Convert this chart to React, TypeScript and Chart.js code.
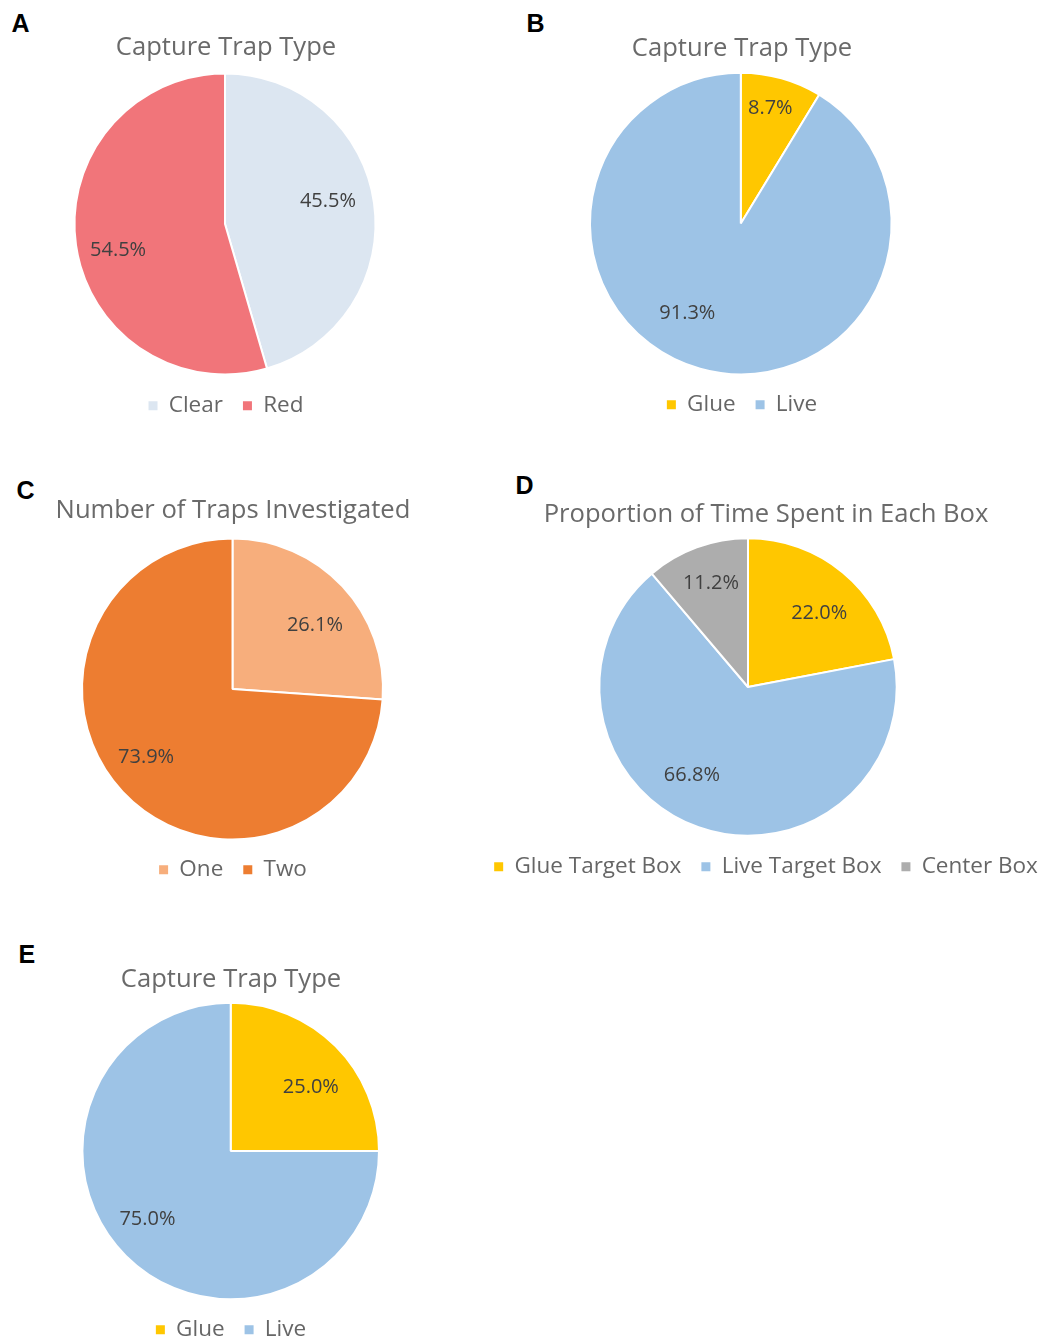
import React, { useEffect, useRef } from "react";
import { Chart, registerables } from "chart.js";

Chart.register(...registerables);

const FONT = '"Open Sans", "Noto Sans", sans-serif';

// A: capture trap type (trap colour)
const colourTrapLabels = ["Clear", "Red"];
const colourTrapShares = [45.5, 54.5];

// B: capture trap type (glue vs live), first set
const kindTrapLabelsB = ["Glue", "Live"];
const kindTrapSharesB = [8.7, 91.3];

// C: number of traps investigated
const investigatedLabels = ["One", "Two"];
const investigatedShares = [26.1, 73.9];

// D: proportion of time spent in each box
const boxLabels = ["Glue Target Box", "Live Target Box", "Center Box"];
const boxTimeShares = [22.0, 66.8, 11.2];

// E: capture trap type (glue vs live), second set
const kindTrapLabelsE = ["Glue", "Live"];
const kindTrapSharesE = [25.0, 75.0];

const captureTitle = "Capture Trap Type";
const investigatedTitle = "Number of Traps Investigated";
const boxTitle = "Proportion of Time Spent in Each Box";

const clearRedColours = ["#DCE6F1", "#F1757A"];
const glueLiveColours = ["#FFC700", "#9DC3E6"];
const oneTwoColours = ["#F7AE7C", "#ED7D31"];
const boxColours = ["#FFC700", "#9DC3E6", "#ADADAD"];

// Label placement per slice: angular nudge from the slice's mid-angle (degrees)
// and distance from the centre as a fraction of the radius ("best fit" style).
const labelNudgeA = [-4.2, -5.6];
const labelDistA = [0.705, 0.736];
const labelNudgeB = [-1.3, 15.1];
const labelDistB = [0.794, 0.698];
const labelNudgeC = [5.3, 4.8];
const labelDistC = [0.697, 0.736];
const labelNudgeD = [4.4, 13.1, 0.5];
const labelDistD = [0.694, 0.706, 0.746];
const labelNudgeE = [6.4, 5.8];
const labelDistE = [0.696, 0.729];

const TITLE_COLOUR = "#6a6a6a";
const LEGEND_COLOUR = "#666666";
const VALUE_COLOUR = "#404040";

// Places the pie at a fixed centre and radius inside the canvas.
const pieFrame = {
  id: "pieFrame",
  afterLayout(chart: any, _args: any, opts: any) {
    const { cx, cy, r } = opts;
    if (cx == null) return;
    chart.chartArea = {
      left: cx - r,
      top: cy - r,
      right: cx + r,
      bottom: cy + r,
      width: 2 * r,
      height: 2 * r,
    };
  },
};

// Percentage labels written inside each slice.
const sliceLabels = {
  id: "sliceLabels",
  afterDatasetsDraw(chart: any, _args: any, opts: any) {
    const ctx = chart.ctx as CanvasRenderingContext2D;
    const meta = chart.getDatasetMeta(0);
    const data = chart.data.datasets[0].data as number[];
    ctx.save();
    ctx.font = `${opts.size}px ${FONT}`;
    ctx.fillStyle = opts.color;
    ctx.textAlign = "center";
    ctx.textBaseline = "middle";
    meta.data.forEach((arc: any, i: number) => {
      const p = arc.getProps(["x", "y", "startAngle", "endAngle", "outerRadius"], true);
      const nudge = ((opts.nudge?.[i] ?? 0) * Math.PI) / 180;
      const mid = (p.startAngle + p.endAngle) / 2 + nudge;
      const rr = (p.outerRadius - 1) * (opts.dist?.[i] ?? 0.7);
      ctx.fillText(`${data[i].toFixed(1)}%`, p.x + Math.cos(mid) * rr, p.y + Math.sin(mid) * rr);
    });
    ctx.restore();
  },
};

type PanelProps = {
  letter: string;
  letterX: number;
  letterY: number;
  title: string;
  labels: string[];
  values: number[];
  colours: string[];
  nudge: number[];
  dist: number[];
  left: number;
  top: number;
  width: number;
  height: number;
  cx: number;
  cy: number;
  r: number;
  titlePad: number;
};

function PiePanel(props: PanelProps) {
  const ref = useRef<HTMLCanvasElement | null>(null);
  useEffect(() => {
    if (!ref.current) return;
    const base = (Chart as any).overrides.doughnut.plugins.legend.labels.generateLabels;
    const chart = new Chart(ref.current, {
      type: "pie",
      data: {
        labels: props.labels,
        datasets: [
          {
            data: props.values,
            backgroundColor: props.colours,
            borderColor: "#ffffff",
            borderWidth: 2,
          },
        ],
      },
      options: {
        responsive: false,
        animation: false,
        devicePixelRatio: 1,
        events: [],
        plugins: {
          tooltip: { enabled: false },
          title: {
            display: true,
            text: props.title,
            color: TITLE_COLOUR,
            font: { family: FONT, size: 25.6, weight: "normal", lineHeight: 1.2 },
            padding: { top: props.titlePad, bottom: 0 },
          },
          legend: {
            display: true,
            position: "bottom",
            labels: {
              font: { family: FONT, size: 22.5 },
              color: LEGEND_COLOUR,
              boxWidth: 9,
              boxHeight: 9,
              padding: 20,
              generateLabels: (c: any) =>
                base(c).map((item: any) => ({ ...item, lineWidth: 0, fontColor: LEGEND_COLOUR })),
            },
          },
          pieFrame: { cx: props.cx, cy: props.cy, r: props.r },
          sliceLabels: { size: 20, color: VALUE_COLOUR, nudge: props.nudge, dist: props.dist },
        } as any,
      },
      plugins: [pieFrame, sliceLabels],
    });
    if ((document as any).fonts && (document as any).fonts.ready) {
      (document as any).fonts.ready.then(() => chart.update());
    }
    return () => chart.destroy();
  }, []);

  return (
    <>
      <div
        style={{
          position: "absolute",
          left: props.letterX,
          top: props.letterY,
          font: 'bold 25px "Liberation Sans", Arial, sans-serif',
          lineHeight: "25px",
          color: "#000",
        }}
      >
        {props.letter}
      </div>
      <canvas
        ref={ref}
        width={props.width}
        height={props.height}
        style={{
          position: "absolute",
          left: props.left,
          top: props.top,
          width: props.width,
          height: props.height,
        }}
      />
    </>
  );
}

export default function App() {
  return (
    <div
      style={{
        position: "absolute",
        left: 0,
        top: 0,
        width: 1038,
        height: 1339,
        overflow: "hidden",
        background: "#ffffff",
      }}
    >
      <PiePanel
        letter="A" letterX={11.5} letterY={10.5}
        title={captureTitle} labels={colourTrapLabels} values={colourTrapShares} colours={clearRedColours}
        nudge={labelNudgeA} dist={labelDistA}
        left={0} top={0} width={452} height={427}
        cx={225} cy={224} r={151.5} titlePad={32.5}
      />
      <PiePanel
        letter="B" letterX={526.5} letterY={10.5}
        title={captureTitle} labels={kindTrapLabelsB} values={kindTrapSharesB} colours={glueLiveColours}
        nudge={labelNudgeB} dist={labelDistB}
        left={519} top={0} width={446} height={426}
        cx={221.8} cy={223.5} r={151.8} titlePad={33}
      />
      <PiePanel
        letter="C" letterX={16.5} letterY={477.5}
        title={investigatedTitle} labels={investigatedLabels} values={investigatedShares} colours={oneTwoColours}
        nudge={labelNudgeC} dist={labelDistC}
        left={0} top={464} width={466} height={427}
        cx={232.5} cy={225} r={151.5} titlePad={31.5}
      />
      <PiePanel
        letter="D" letterX={515.5} letterY={472.5}
        title={boxTitle} labels={boxLabels} values={boxTimeShares} colours={boxColours}
        nudge={labelNudgeD} dist={labelDistD}
        left={446} top={464} width={640} height={424}
        cx={302} cy={223} r={149.7} titlePad={35.5}
      />
      <PiePanel
        letter="E" letterX={18.5} letterY={941.5}
        title={captureTitle} labels={kindTrapLabelsE} values={kindTrapSharesE} colours={glueLiveColours}
        nudge={labelNudgeE} dist={labelDistE}
        left={-1} top={930} width={464} height={421}
        cx={231.7} cy={221} r={149.3} titlePad={34.5}
      />
    </div>
  );
}
